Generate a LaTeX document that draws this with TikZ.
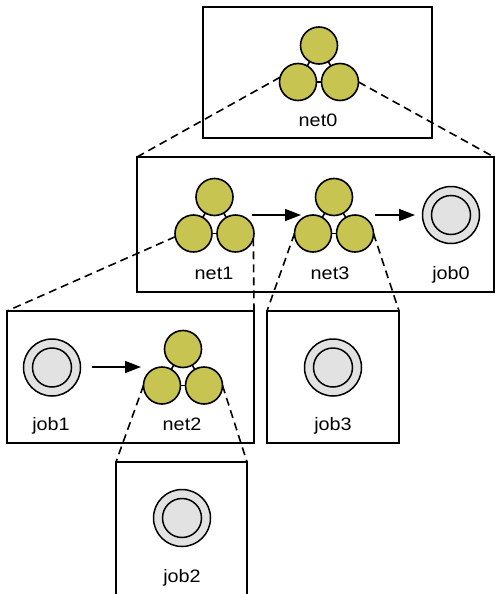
\documentclass[tikz,border=0pt]{standalone}
\usepackage{fontspec}
\setmainfont{Liberation Sans}[FakeStretch=1.1]
\usetikzlibrary{arrows.meta}
\definecolor{netolive}{RGB}{200,196,82}
\definecolor{ringgray}{RGB}{226,226,226}
\tikzset{
 netc/.style={circle, draw=black, line width=1.6pt, fill=netolive, minimum size=37pt, inner sep=0pt, outer sep=0pt},
 ringout/.style={circle, draw=black, line width=1.5pt, fill=ringgray, minimum size=57pt, inner sep=0pt, outer sep=0pt},
 ringin/.style={circle, draw=black, line width=1.5pt, fill=ringgray, minimum size=39pt, inner sep=0pt, outer sep=0pt},
 boxst/.style={draw=black, line width=2pt, inner sep=0pt, outer sep=0pt},
 dashln/.style={line width=1.6pt, dash pattern=on 8pt off 5pt},
 arr/.style={line width=1.6pt, -{Triangle[length=16pt,width=12pt]}},
 lab/.style={font=\fontsize{18}{20}\selectfont, anchor=base, inner sep=0pt},
 link/.style={line width=1.6pt}
}
\newcommand{\mknet}[3]{%
  \node[netc] (#1t) at (#2,#3-36.5) {};
  \node[netc] (#1l) at (#2-21,#3) {};
  \node[netc] (#1r) at (#2+21,#3) {};
  \draw[link] (#1t) -- (#1l);
  \draw[link] (#1t) -- (#1r);
  \draw[link] (#1l) -- (#1r);
}
\newcommand{\mkring}[3]{%
  \node[ringout] (#1o) at (#2,#3) {};
  \node[ringin] (#1i) at (#2,#3) {};
}
\begin{document}
\begin{tikzpicture}[x=1pt,y=-1pt]
\useasboundingbox (0,0) rectangle (495,594);
\clip (0,0) rectangle (495,594);
% boxes
\node[boxst, minimum width=229pt, minimum height=131pt] (b0) at (317.5,72.5) {};
\node[boxst, minimum width=357pt, minimum height=135pt] (b1) at (315.5,224.5) {};
\node[boxst, minimum width=247pt, minimum height=132pt] (bj1) at (130.5,377) {};
\node[boxst, minimum width=132pt, minimum height=132pt] (bj3) at (333,377) {};
\node[boxst, minimum width=131pt, minimum height=140pt] (bj2) at (181.5,532) {};
% nets
\mknet{n0}{319}{82}
\mknet{n1}{214.5}{233.5}
\mknet{n3}{334}{233.5}
\mknet{n2}{183}{385.5}
% rings
\mkring{j0}{451}{215}
\mkring{j1}{52}{367.5}
\mkring{j3}{333}{367.5}
\mkring{j2}{182}{518}
% labels
\node[lab] (l0) at (318,126) {net0};
\node[lab] (l1) at (214,279) {net1};
\node[lab] (l3) at (330,279) {net3};
\node[lab] (lj0) at (451,279) {job0};
\node[lab] (lj1) at (51,430) {job1};
\node[lab] (l2) at (182,430) {net2};
\node[lab] (lj3) at (333,430) {job3};
\node[lab] (lj2) at (182,582) {job2};
% arrows
\coordinate (a1s) at (252,215);
\coordinate (a1e) at (301,215);
\coordinate (a2s) at (375,215);
\coordinate (a2e) at (415,215);
\coordinate (a3s) at (92,367);
\coordinate (a3e) at (141,367);
\draw[arr] (a1s) -- (a1e);
\draw[arr] (a2s) -- (a2e);
\draw[arr] (a3s) -- (a3e);
% dashed zoom lines
\draw[dashln] (n0l.165) -- (b1.north west);
\draw[dashln] (n0r.east) -- (b1.north east);
\draw[dashln] (n1l.190) -- (bj1.north west);
\draw[dashln] (n1r.-15) -- (bj1.north east);
\draw[dashln] (n3l.west) -- (bj3.north west);
\draw[dashln] (n3r.east) -- (bj3.north east);
\draw[dashln] (n2l.west) -- (bj2.north west);
\draw[dashln] (n2r.east) -- (bj2.north east);
\end{tikzpicture}
\end{document}
